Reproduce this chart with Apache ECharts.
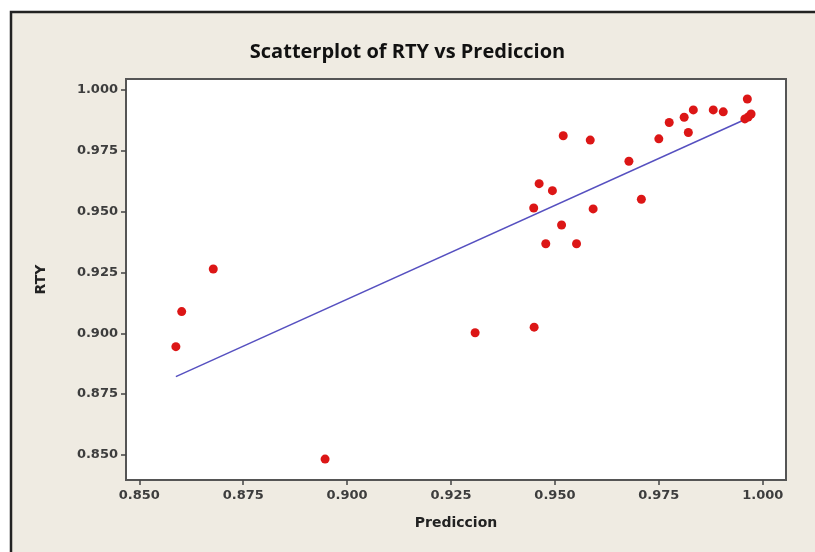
<!DOCTYPE html>
<html>
<head>
<meta charset="utf-8">
<script src="https://cdn.jsdelivr.net/npm/echarts@6/dist/echarts.min.js"></script>
<style>
html,body{margin:0;padding:0;background:#fff;}
#c{width:815px;height:552px;}
</style>
</head>
<body>
<div id="c"></div>
<script>
// Data
var prediccion = [0.9963, 0.9750, 0.9775, 0.9811, 0.9833, 0.9821, 0.9881, 0.9905, 0.9957, 0.9965, 0.9972,
  0.9520, 0.9585, 0.9678, 0.9462, 0.9494, 0.9449, 0.9592, 0.9708, 0.9516, 0.9478, 0.9552,
  0.8602, 0.8588, 0.8678, 0.9308, 0.8947, 0.9450];
var rty = [0.9963, 0.9799, 0.9866, 0.9888, 0.9918, 0.9825, 0.9918, 0.9910, 0.9881, 0.9889, 0.9901,
  0.9812, 0.9794, 0.9707, 0.9615, 0.9586, 0.9515, 0.9511, 0.9551, 0.9445, 0.9368, 0.9368,
  0.9089, 0.8945, 0.9264, 0.9002, 0.8483, 0.9025];
var fitX = [0.8588, 0.9972];
var fitY = [0.8822, 0.9890];
var xTicks = [0.850, 0.875, 0.900, 0.925, 0.950, 0.975, 1.000];
var yTicks = [0.850, 0.875, 0.900, 0.925, 0.950, 0.975, 1.000];

var points = prediccion.map(function (x, i) { return [x, rty[i]]; });
var fitLine = fitX.map(function (x, i) { return [x, fitY[i]]; });

var chart = echarts.init(document.getElementById('c'));
var labelStyle = { color: '#3d3d3d', fontFamily: 'DejaVu Sans', fontWeight: 'bold', fontSize: 13,
  formatter: function (v) { return Number(v).toFixed(3); } };

chart.setOption({
  backgroundColor: '#fff',
  animation: false,
  graphic: [{
    type: 'rect', z: -10, silent: true,
    shape: { x: 11, y: 12, width: 830, height: 560 },
    style: { fill: '#efebe2', stroke: '#222', lineWidth: 2.5 }
  }],
  title: {
    text: 'Scatterplot of RTY vs Prediccion',
    left: 'center', top: 37,
    textStyle: { fontFamily: 'Open Sans', fontWeight: 'bold', fontSize: 20, color: '#111' }
  },
  grid: {
    left: 126, right: 29, top: 79, bottom: 72,
    show: true, backgroundColor: '#fff', borderColor: '#555', borderWidth: 2
  },
  xAxis: {
    type: 'value', min: 0.8468, max: 1.0056,
    name: 'Prediccion', nameLocation: 'middle', nameGap: 36,
    nameTextStyle: { fontFamily: 'DejaVu Sans', fontWeight: 'bold', fontSize: 14, color: '#222' },
    axisLine: { show: false },
    axisTick: { show: true, length: 5, lineStyle: { color: '#444', width: 1.5 }, customValues: xTicks },
    axisLabel: Object.assign({ margin: 9, customValues: xTicks }, labelStyle),
    splitLine: { show: false }
  },
  yAxis: {
    type: 'value', min: 0.8397, max: 1.0045,
    name: 'RTY', nameLocation: 'middle', nameGap: 78, nameRotate: 90,
    nameTextStyle: { fontFamily: 'DejaVu Sans', fontWeight: 'bold', fontSize: 14, color: '#222' },
    axisLine: { show: false },
    axisTick: { show: true, length: 5, lineStyle: { color: '#444', width: 1.5 }, customValues: yTicks },
    axisLabel: Object.assign({ margin: 8, customValues: yTicks }, labelStyle),
    splitLine: { show: false }
  },
  series: [{
    type: 'line', data: fitLine, symbol: 'none', z: 2,
    lineStyle: { color: '#5650c0', width: 1.5 }
  }, {
    type: 'scatter', data: points, symbol: 'circle', symbolSize: 9, z: 3,
    itemStyle: { color: '#dc1616', opacity: 1 }
  }]
});
</script>
</body>
</html>
